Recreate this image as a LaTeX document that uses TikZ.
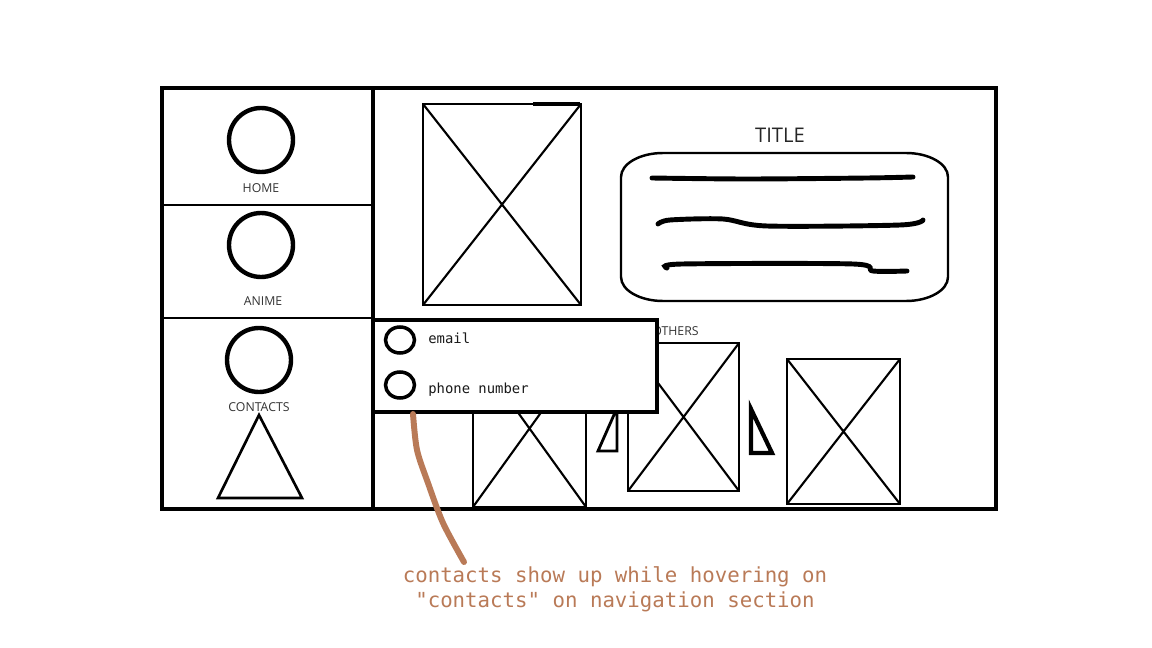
\documentclass[tikz,border=0pt]{standalone}
\usepackage{fontspec}
\usepackage{xcolor}
\usepackage{tikz}
\usetikzlibrary{shapes.geometric, positioning}
\newfontfamily\uifont{Open Sans}
\newfontfamily\codefont{DejaVu Sans Mono}
\definecolor{notebrown}{HTML}{B97A57}

\begin{document}
\begin{tikzpicture}[
			x = 0.02cm, y = -0.02cm,
			frame/.style = {draw, line width=2.3pt},
			divider/.style = {draw, line width=1.2pt},
			navicon/.style = {circle, draw, line width=2.5pt, minimum size=1.28cm, inner sep=0pt},
			navlabel/.style = {font=\uifont\fontsize{7}{8}\selectfont, text=black!80, inner sep=0pt},
			imgbox/.style = {draw, line width=1.6pt},
			imgcross/.style = {draw, line width=1.2pt},
			popupbox/.style = {rectangle, draw, fill=white, line width=2.3pt,
					minimum width=5.68cm, minimum height=1.84cm},
			dotitem/.style = {ellipse, draw, line width=2pt, minimum width=0.58cm,
					minimum height=0.52cm, inner sep=0pt},
			itemtext/.style = {font=\codefont\fontsize{7.9}{9}\selectfont, text=black!90,
					inner sep=0pt, anchor=base west},
			scribble/.style = {draw, line width=2.8pt, line cap=round},
			pointer/.style = {draw, notebrown, line width=3.4pt, line cap=round},
			notetext/.style = {font=\codefont\fontsize{11.8}{14.2}\selectfont, text=notebrown,
					align=center, inner sep=0pt},
		]
		\useasboundingbox (0,0) rectangle (1152,648);

		% Page frame and navigation column
		\draw[frame] (162,88) rectangle (996,509);
		\draw[frame] (373,88) -- (373,509);
		\draw[divider] (162,205) -- (373,205);
		\draw[divider] (162,318) -- (373,318);

		% Navigation entries
		\node [navicon] (home) at (261,140) {};
		\node [navicon] (anime) at (261,245) {};
		\node [navicon] (contacts) at (259,360) {};
		\node [navlabel] (homelbl) at (261,188) {HOME};
		\node [navlabel] (animelbl) at (263,301) {ANIME};
		\node [navlabel] (contactslbl) at (259,407) {CONTACTS};
		\draw[line width=1.5pt] (259,415) -- (302,498) -- (218,498) -- cycle;

		% Image placeholders
		\foreach \ax/\ay/\bx/\by in {423/104/581/305, 473/350/586/507, 628/343/739/491, 787/359/900/504} {
			\draw[imgbox] (\ax,\ay) rectangle (\bx,\by);
			\draw[imgcross] (\ax,\ay) -- (\bx,\by) (\ax,\by) -- (\bx,\ay);
		}
		\draw[line width=2.4pt] (533,104) -- (580,104);

		% Small arrows
		\draw[line width=1.6pt] (598,451) -- (617,451) -- (617,408) -- cycle;
		\draw[line width=2.4pt] (751,409) -- (751,453) -- (772,453) -- cycle;

		% Title and text block
		\node [font=\uifont\fontsize{11.5}{13}\selectfont, text=black!85] (title) at (780,135) {TITLE};
		\draw[line width=1.4pt] (663,153) -- (906,153)
			arc[start angle=90, end angle=0, x radius=0.84cm, y radius=0.48cm] -- (948,277)
			arc[start angle=0, end angle=-90, x radius=0.84cm, y radius=0.48cm] -- (663,301)
			arc[start angle=270, end angle=180, x radius=0.84cm, y radius=0.48cm] -- (621,177)
			arc[start angle=180, end angle=90, x radius=0.84cm, y radius=0.48cm] -- cycle;
		\draw[scribble] plot[smooth] coordinates {(652,178) (747,179) (867,178) (913,177)};
		\draw[scribble] plot[smooth, tension=0.5] coordinates {(658,224) (670,220) (723,219) (767,226) (900,225) (923,220)};
		\draw[scribble] plot[smooth, tension=0.5] coordinates {(667,268) (682,264) (853,264) (873,271) (907,271)};
		\node [navlabel, anchor=base west] (others) at (652,336) {OTHERS};

		% Contacts popup
		\node [popupbox] (popup) at (515,366) {};
		\node [dotitem] (mailicon) at (400,340) {};
		\node [dotitem] (phoneicon) at (400,385) {};
		\node [itemtext] (mail) at (428,343) {email};
		\node [itemtext] (phone) at (428,393) {phone number};

		% Note
		\node [notetext] (note) at (615,589) {contacts show up while hovering on\\"contacts" on navigation section};
		\coordinate (hook) at (413,414);
		\coordinate (tail) at (464,562);
		\draw[pointer] plot[smooth] coordinates {(hook) (417,450) (428,483) (443,523) (tail)};
	\end{tikzpicture}
\end{document}
